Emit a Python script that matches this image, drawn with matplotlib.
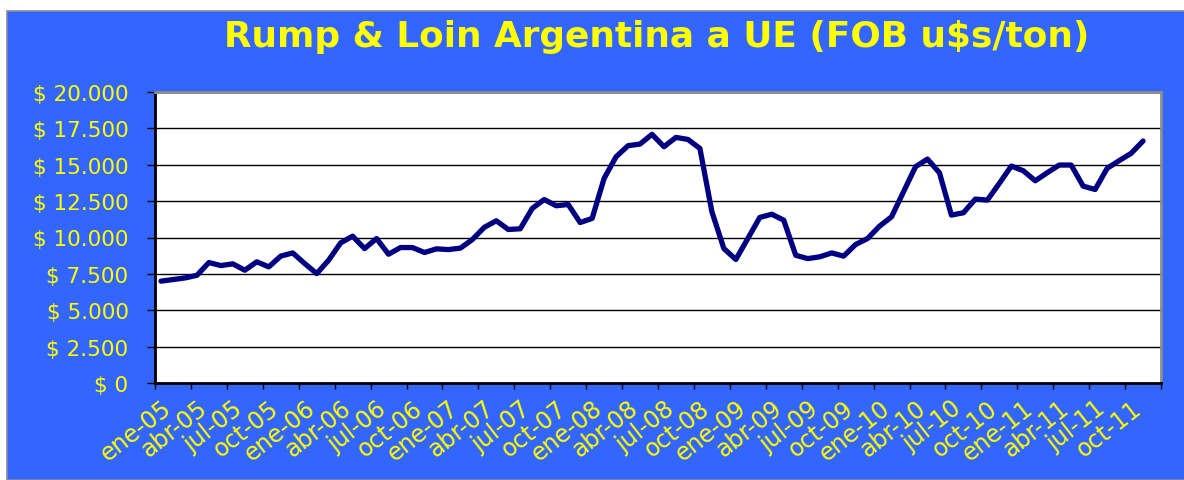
import matplotlib.pyplot as plt
from matplotlib.patches import Rectangle
from matplotlib.ticker import MultipleLocator, FixedLocator, FuncFormatter

# FOB u$s/ton, monthly from ene-05 to nov-11
prices = [7000, 7110, 7220, 7400, 8280, 8070, 8190, 7750, 8330, 7980, 8720, 8940,
          8210, 7520, 8440, 9630, 10090, 9240, 9930, 8850, 9310, 9310, 8970, 9220,
          9170, 9270, 9860, 10700, 11150, 10550, 10600, 12000, 12610, 12180, 12270, 11030,
          11310, 14060, 15550, 16310, 16420, 17090, 16240, 16880, 16740, 16120, 11770, 9240,
          8490, 9930, 11380, 11600, 11190, 8780, 8550, 8670, 8940, 8720, 9520, 9930,
          10780, 11420, 13140, 14860, 15390, 14450, 11540, 11700, 12640, 12570, 13720, 14910,
          14590, 13900, 14450, 14980, 14980, 13530, 13300, 14750, 15280, 15780, 16630]

months = ["ene", "abr", "jul", "oct"]
years = ["05", "06", "07", "08", "09", "10", "11"]
tick_labels = [m + "-" + y for y in years for m in months]

n_cat = 84
blue = "#3366FF"
yellow = "#FFFF00"

fig = plt.figure(figsize=(11.84, 4.81), dpi=100)
fig.patch.set_facecolor("white")
fig.patches.append(Rectangle((7 / 1184, 0), 1, 1 - 12 / 481, transform=fig.transFigure,
                             facecolor=blue, edgecolor="#8a8a9a", linewidth=1.2, zorder=-5))

ax = fig.add_axes([155 / 1184, 1 - 384 / 481, (1161 - 155) / 1184, (384 - 93) / 481])
ax.set_zorder(2)
ax.set_facecolor("white")

x = [i + 0.5 for i in range(len(prices))]
ax.plot(x, prices, color="#000080", linewidth=3.8, solid_joinstyle="round",
        solid_capstyle="round", zorder=3)

ax.set_xlim(0, n_cat)
ax.set_ylim(0, 20000)

ax.yaxis.set_major_locator(MultipleLocator(2500))
ax.yaxis.set_major_formatter(FuncFormatter(lambda v, p: "$ " + f"{int(v):,}".replace(",", ".")))
ax.grid(axis="y", color="black", linewidth=1.0, zorder=1)

ax.xaxis.set_major_locator(MultipleLocator(3))
ax.xaxis.set_major_formatter(FuncFormatter(lambda v, p: ""))
ax.xaxis.set_minor_locator(FixedLocator([3 * k + 0.5 for k in range(len(tick_labels))]))
ax.set_xticklabels(tick_labels, minor=True)

ax.tick_params(axis="y", direction="out", length=6, width=1, color="black",
               labelcolor=yellow, labelsize=15.5, pad=13)
ax.tick_params(axis="x", which="major", direction="out", length=4.5, width=1, color="black")
ax.tick_params(axis="x", which="minor", length=0, labelcolor=yellow, labelsize=17, pad=9)
for lab in ax.get_xticklabels(minor=True):
    lab.set_rotation(38)
    lab.set_ha("right")
    lab.set_va("top")
    lab.set_rotation_mode("anchor")

for s in ["left", "bottom"]:
    ax.spines[s].set_color("black")
    ax.spines[s].set_linewidth(2)
for s in ["top", "right"]:
    ax.spines[s].set_color("#8c8c8c")
    ax.spines[s].set_linewidth(2)

fig.text(657 / 1184, 1 - 37 / 481, "Rump & Loin Argentina a UE (FOB u$s/ton)",
         color=yellow, fontsize=25.8, fontweight="bold", ha="center", va="center",
         family="DejaVu Sans")

fig.savefig("out.png", dpi=100, facecolor=fig.get_facecolor())
